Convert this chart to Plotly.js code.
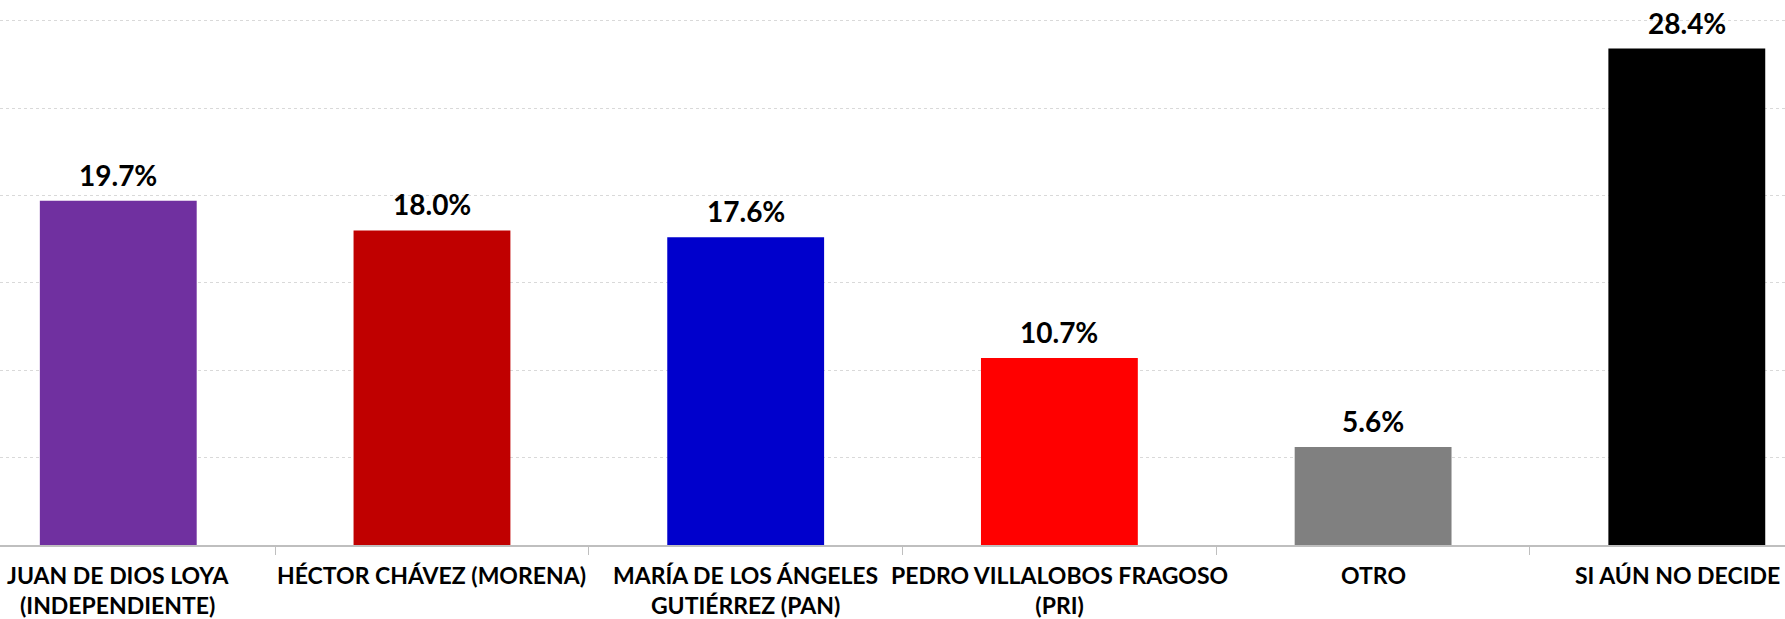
<!DOCTYPE html>
<html>
<head>
<meta charset="utf-8">
<script src="https://cdn.plot.ly/plotly-3.0.1.min.js"></script>
<style>
html,body{margin:0;padding:0;background:#fff;}
#chart{width:1785px;height:619px;}
</style>
</head>
<body>
<div id="chart"></div>
<script>
const categories = [
  "JUAN DE DIOS LOYA<br>(INDEPENDIENTE)",
  "HÉCTOR CHÁVEZ (MORENA)",
  "MARÍA DE LOS ÁNGELES<br>GUTIÉRREZ (PAN)",
  "PEDRO VILLALOBOS FRAGOSO<br>(PRI)",
  "OTRO",
  "SI AÚN NO DECIDE"
];
const values = [19.7, 18.0, 17.6, 10.7, 5.6, 28.4];
const valueLabels = ["19.7%", "18.0%", "17.6%", "10.7%", "5.6%", "28.4%"];
const barColors = ["#7030A0", "#C00000", "#0000CC", "#FF0000", "#808080", "#000000"];

const FONT = "Lato, sans-serif";

const trace = {
  type: "bar",
  x: categories,
  y: values,
  marker: {color: barColors},
  width: 0.5,
  hoverinfo: "skip"
};

const valueAnn = categories.map((c, i) => ({
  x: c, y: values[i], xref: "x", yref: "y",
  text: "<b>" + valueLabels[i] + "</b>",
  showarrow: false, yanchor: "bottom", yshift: 7,
  font: {family: FONT, size: 28, color: "#000"}
}));

// category labels drawn as annotations so the last one can be kept inside the frame
const catAnn = categories.map((c, i) => {
  const last = i === categories.length - 1;
  return {
    x: last ? 1 : c, xref: last ? "paper" : "x",
    xanchor: last ? "right" : "center", xshift: last ? -3 : 0,
    y: 0, yref: "paper", yanchor: "top", yshift: -14,
    text: "<b>" + c + "</b>",
    showarrow: false, align: "center",
    font: {family: FONT, size: 23, color: "#000"}
  };
});

const layout = {
  width: 1785, height: 619,
  margin: {l: 0, r: 0, t: 0, b: 74, pad: 0},
  paper_bgcolor: "#fff", plot_bgcolor: "#fff",
  showlegend: false,
  bargap: 0.5,
  xaxis: {
    type: "category",
    range: [-0.377, 5.313],
    tickson: "boundaries",
    tickangle: 0,
    ticks: "outside", ticklen: 8, tickcolor: "#bfbfbf", tickwidth: 1,
    showline: true, linecolor: "#bfbfbf", linewidth: 1.5,
    showgrid: false,
    showticklabels: false,
    fixedrange: true
  },
  yaxis: {
    range: [0, 31.18],
    dtick: 5, tick0: 0,
    showticklabels: false,
    showgrid: true, gridcolor: "#d9d9d9", griddash: "dot", gridwidth: 1,
    zeroline: false,
    showline: false,
    fixedrange: true
  },
  annotations: valueAnn.concat(catAnn)
};

Plotly.newPlot("chart", [trace], layout, {staticPlot: true, displayModeBar: false});
</script>
</body>
</html>
